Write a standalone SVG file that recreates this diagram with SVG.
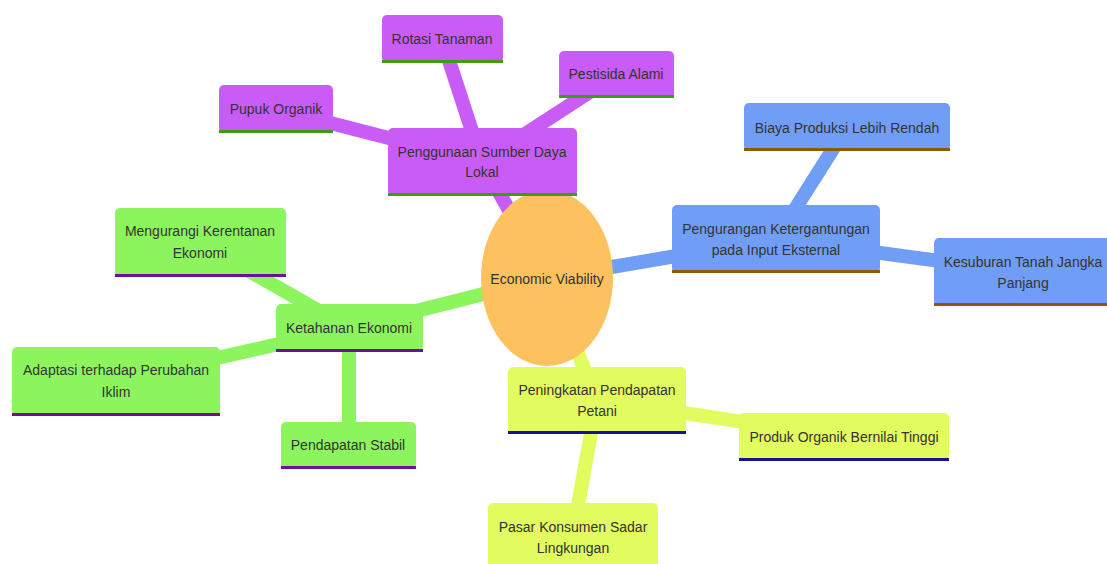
<svg xmlns="http://www.w3.org/2000/svg" width="1107" height="564" viewBox="0 0 1107 564">
<style>
text{font-family:"Liberation Sans",Arial,sans-serif;font-size:14px;fill:#333;text-anchor:middle;dominant-baseline:central}
.lp{stroke:#c95cf6;stroke-width:14;fill:none}
.lb{stroke:#709ef6;stroke-width:14;fill:none}
.lg{stroke:#8cf55e;stroke-width:14;fill:none}
.ly{stroke:#e2fb5e;stroke-width:14;fill:none}
.np{fill:#c95cf6}.bp{fill:#3a9e10}
.nb{fill:#709ef6}.bb{fill:#8b5a0a}
.ng{fill:#8cf55e}.bg{fill:#6c119e}
.ny{fill:#e2fb5e}.by{fill:#14109a}
</style>
<rect width="1107" height="564" fill="#ffffff"/>
<g id="connectors">
<line class="lp" x1="547" y1="278" x2="482" y2="162" stroke-width="16"/>
<line class="lp" x1="482" y1="162" x2="442" y2="39"/>
<line class="lp" x1="482" y1="162" x2="276" y2="109"/>
<line class="lp" x1="482" y1="162" x2="616" y2="75"/>
<line class="lb" x1="547" y1="278" x2="776" y2="239" stroke-width="16"/>
<line class="lb" x1="776" y1="239" x2="847" y2="127"/>
<line class="lb" x1="776" y1="239" x2="1022" y2="272"/>
<line class="lg" x1="547" y1="278" x2="349" y2="328" stroke-width="16"/>
<line class="lg" x1="349" y1="328" x2="200" y2="243"/>
<line class="lg" x1="349" y1="328" x2="116" y2="381"/>
<line class="lg" x1="349" y1="328" x2="349" y2="446"/>
<line class="ly" x1="547" y1="278" x2="597" y2="400" stroke-width="16"/>
<line class="ly" x1="597" y1="400" x2="844" y2="437"/>
<line class="ly" x1="597" y1="400" x2="573" y2="533"/>
</g>
<g id="center">
<ellipse cx="547" cy="278" rx="66" ry="88" fill="#fdc25f"/>
<text x="547" y="279">Economic Viability</text>
</g>
<g id="n-penggunaan">
<rect class="np" x="388" y="128" width="189" height="68" rx="5"/>
<rect class="bp" x="388" y="193" width="189" height="3"/>
<text x="482" y="152">Penggunaan Sumber Daya</text>
<text x="482" y="172">Lokal</text>
</g>
<g id="n-rotasi">
<rect class="np" x="382" y="15" width="121" height="48" rx="5"/>
<rect class="bp" x="382" y="60" width="121" height="3"/>
<text x="442" y="39">Rotasi Tanaman</text>
</g>
<g id="n-pestisida">
<rect class="np" x="559" y="51" width="115" height="47" rx="5"/>
<rect class="bp" x="559" y="95" width="115" height="3"/>
<text x="616" y="74">Pestisida Alami</text>
</g>
<g id="n-pupuk">
<rect class="np" x="219" y="85" width="114" height="48" rx="5"/>
<rect class="bp" x="219" y="130" width="114" height="3"/>
<text x="276" y="109">Pupuk Organik</text>
</g>
<g id="n-pengurangan">
<rect class="nb" x="672" y="205" width="208" height="68" rx="5"/>
<rect class="bb" x="672" y="270" width="208" height="3"/>
<text x="776" y="229">Pengurangan Ketergantungan</text>
<text x="776" y="250">pada Input Eksternal</text>
</g>
<g id="n-biaya">
<rect class="nb" x="744" y="103" width="206" height="48" rx="5"/>
<rect class="bb" x="744" y="148" width="206" height="3"/>
<text x="847" y="128">Biaya Produksi Lebih Rendah</text>
</g>
<g id="n-kesuburan">
<rect class="nb" x="934" y="238" width="178" height="68" rx="5"/>
<rect class="bb" x="934" y="303" width="178" height="3"/>
<text x="1023" y="262">Kesuburan Tanah Jangka</text>
<text x="1023" y="283">Panjang</text>
</g>
<g id="n-ketahanan">
<rect class="ng" x="276" y="304" width="147" height="48" rx="5"/>
<rect class="bg" x="276" y="349" width="147" height="3"/>
<text x="349" y="328">Ketahanan Ekonomi</text>
</g>
<g id="n-mengurangi">
<rect class="ng" x="115" y="208" width="171" height="69" rx="5"/>
<rect class="bg" x="115" y="274" width="171" height="3"/>
<text x="200" y="231">Mengurangi Kerentanan</text>
<text x="200" y="253">Ekonomi</text>
</g>
<g id="n-adaptasi">
<rect class="ng" x="12" y="347" width="208" height="69" rx="5"/>
<rect class="bg" x="12" y="413" width="208" height="3"/>
<text x="116" y="370">Adaptasi terhadap Perubahan</text>
<text x="116" y="392">Iklim</text>
</g>
<g id="n-stabil">
<rect class="ng" x="281" y="422" width="135" height="47" rx="5"/>
<rect class="bg" x="281" y="466" width="135" height="3"/>
<text x="348" y="445">Pendapatan Stabil</text>
</g>
<g id="n-peningkatan">
<rect class="ny" x="508" y="367" width="178" height="67" rx="5"/>
<rect class="by" x="508" y="431" width="178" height="3"/>
<text x="597" y="390">Peningkatan Pendapatan</text>
<text x="597" y="411">Petani</text>
</g>
<g id="n-produk">
<rect class="ny" x="739" y="413" width="210" height="48" rx="5"/>
<rect class="by" x="739" y="458" width="210" height="3"/>
<text x="844" y="437">Produk Organik Bernilai Tinggi</text>
</g>
<g id="n-pasar">
<rect class="ny" x="488" y="503" width="170" height="68" rx="5"/>
<text x="573" y="527">Pasar Konsumen Sadar</text>
<text x="573" y="548">Lingkungan</text>
</g>
</svg>
